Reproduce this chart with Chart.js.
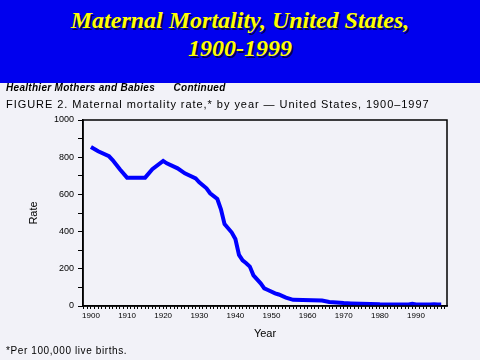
<!DOCTYPE html>
<html>
<head>
<meta charset="utf-8">
<script src="https://cdn.jsdelivr.net/npm/chart.js@4"></script>
<style>
  html, body { margin:0; padding:0; }
  body { width:480px; height:360px; position:relative; overflow:hidden; background:#f2f2f8; font-family:"Liberation Sans", Arial, sans-serif; }
  #banner { position:absolute; left:0; top:0; width:480px; height:83px; background:#0000ee; }
  #banner div { position:absolute; left:0; width:480px; text-align:center; color:#ffff00;
    font-family:"Liberation Serif","Times New Roman",serif; font-weight:bold; font-style:italic; font-size:24px;
    text-shadow:2px 2px 0 #000055; line-height:28px; }
  #t1 { top:6px; }
  #t2 { top:34px; }
  .cap { position:absolute; left:6px; color:#000; white-space:pre; }
  #c1 { top:82px; font-size:10px; font-weight:bold; font-style:italic; letter-spacing:0.3px; }
  #c2 { top:98px; font-size:11px; letter-spacing:0.95px; }
  #foot { position:absolute; left:6px; top:345px; font-size:10px; letter-spacing:0.6px; }
  #chartWrap { position:absolute; left:0; top:0; width:480px; height:360px; }
</style>
</head>
<body>
<div id="chartWrap"><canvas id="c" width="480" height="360"></canvas></div>
<div id="banner"><div id="t1">Maternal Mortality, United States,</div><div id="t2">1900-1999</div></div>
<div class="cap" id="c1">Healthier Mothers and Babies      Continued</div>
<div class="cap" id="c2">FIGURE 2. Maternal mortality rate,* by year — United States, 1900–1997</div>
<div id="foot">*Per 100,000 live births.</div>
<script>
const years = [1900,1902,1905,1906,1908,1910,1915,1917,1920,1921,1924,1926,1929,1930,1932,1933,1935,1936,1937,1939,1940,1941,1942,1943,1944,1945,1947,1948,1949,1951,1952,1954,1956,1964,1966,1970,1972,1980,1988,1989,1990,1994,1995,1996,1997];
const rates = [855,832,805,785,735,690,690,735,780,767,740,713,686,665,633,606,575,520,440,395,360,275,245,230,212,165,122,95,86,68,62,45,33,30,22,16,14,9,8,12,8,8,10,8,8];
const xTickLabels = [1900,1910,1920,1930,1940,1950,1960,1970,1980,1990];
const yTickLabels = [0,200,400,600,800,1000];

const boxPlugin = {
  id: 'box',
  afterDraw(chart) {
    const {ctx, chartArea:a} = chart;
    ctx.save();
    ctx.strokeStyle = '#000';
    ctx.lineWidth = 1.5;
    ctx.strokeRect(a.left, a.top, a.right - a.left, a.bottom - a.top);
    ctx.restore();
  }
};

new Chart(document.getElementById('c'), {
  type: 'line',
  data: {
    datasets: [{
      data: years.map((y, i) => ({x: y, y: rates[i]})),
      borderColor: '#0000ff',
      borderWidth: 4,
      pointRadius: 0,
      tension: 0,
      fill: false
    }]
  },
  options: {
    responsive: false,
    animation: false,
    layout: { padding: { left: 23, right: 33, top: 120, bottom: 14 } },
    plugins: { legend: { display: false }, tooltip: { enabled: false } },
    scales: {
      x: {
        type: 'linear', min: 1897.8, max: 1998.6,
        afterFit: s => { s.height = 40; },
        ticks: {
          stepSize: 1, autoSkip: false, maxRotation: 0, minRotation: 0, includeBounds: false,
          color: '#000', padding: 2,
          font: { size: 8, family: 'Liberation Sans' },
          callback: v => xTickLabels.includes(Math.round(v)) ? String(Math.round(v)) : ''
        },
        grid: { drawOnChartArea: false, tickLength: 3, tickColor: '#000', tickWidth: 1 },
        border: { color: '#000', width: 1.5 },
        title: { display: true, text: 'Year', color: '#000', font: { size: 11, family: 'Liberation Sans' }, padding: { top: 0, bottom: 5 } }
      },
      y: {
        min: 0, max: 1000,
        afterFit: s => { s.width = 60; },
        ticks: {
          stepSize: 100, autoSkip: false, color: '#000', padding: 4,
          font: { size: 9, family: 'Liberation Sans' },
          callback: v => yTickLabels.includes(Math.round(v)) ? String(Math.round(v)) : ''
        },
        grid: { drawOnChartArea: false, tickLength: 5, tickColor: '#000', tickWidth: 1 },
        border: { color: '#000', width: 1.5 },
        title: { display: true, text: 'Rate', color: '#000', font: { size: 11, family: 'Liberation Sans' }, padding: { top: 4, bottom: 0 } }
      }
    }
  },
  plugins: [boxPlugin]
});
</script>
</body>
</html>
